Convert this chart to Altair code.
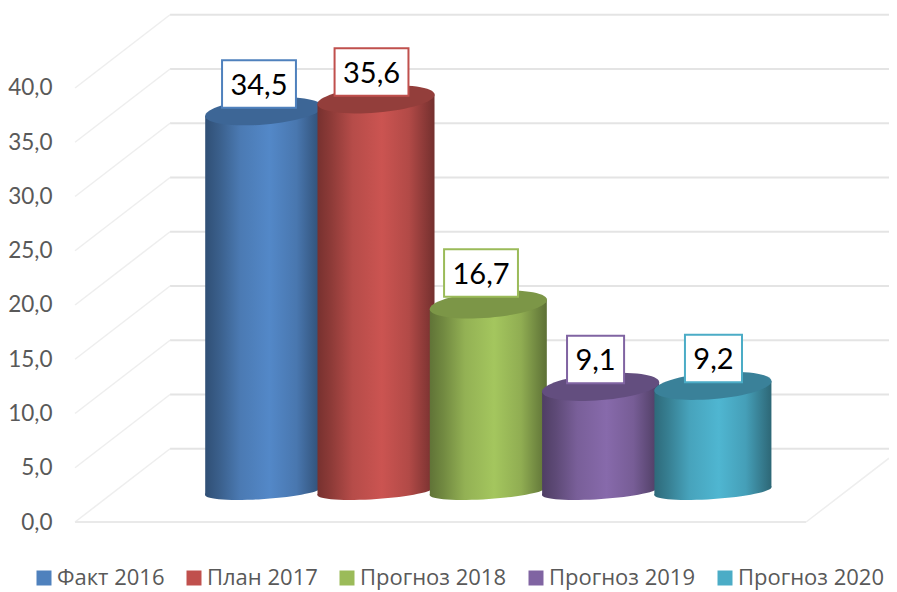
import math
import altair as alt
import pandas as pd

# ---- values ----
categories = ["Факт 2016", "План 2017", "Прогноз 2018", "Прогноз 2019", "Прогноз 2020"]
values = [34.5, 35.6, 16.7, 9.1, 9.2]
labels = ["34,5", "35,6", "16,7", "9,1", "9,2"]
base_colors = ["#4F81BD", "#C0504D", "#9BBB59", "#8064A2", "#4BACC6"]
top_colors = ["#3D6696", "#933E3B", "#7C9647", "#634E7F", "#3A8199"]
grid_values = [0, 5, 10, 15, 20, 25, 30, 35, 40]

# ---- layout of the pseudo-3D box, in data units ----
DEPTH = 6.75
WALL_L_FRONT, WALL_L_BACK = -1.68, -0.834
WALL_R_FRONT = 4.83
X_MIN, X_MAX = -1.814, 5.568
WALL_R_RISE = 5.88
Y_MIN, Y_MAX = -6.45, 47.37
HALF = 0.521
TOP_LIFT = 3.35
RISE_TOP = 0.45
BASE = 2.86
RISE_BASE = 0.37
LABEL_LIFT = [5.87, 5.87, 6.25, 5.88, 5.87]
LABEL_DX = [-0.042, -0.04, -0.065, -0.045, 0.005]
LABEL_HALF_W = [0.329, 0.329, 0.329, 0.254, 0.254]
LABEL_HALF_H = 2.19

FONT = "Open Sans"
NUM_FONT = "Lato"
TXT = "#595959"


def shade(hex_color, k):
    r, g, b = [int(hex_color[i:i + 2], 16) for i in (1, 3, 5)]
    return "#%02x%02x%02x" % tuple(min(255, int(c * k)) for c in (r, g, b))


def gradient(c):
    stops = [(0, 0.62), (0.12, 0.74), (0.3, 0.95), (0.55, 1.06), (0.78, 0.93), (0.92, 0.72), (1, 0.6)]
    return alt.LinearGradient(
        gradient="linear", x1=0, x2=1, y1=0, y2=0,
        stops=[alt.GradientStop(offset=o, color=shade(c, k)) for o, k in stops],
    )


def ellipse_path(ry, deg, n=64):
    t = math.radians(deg)
    pts = []
    for i in range(n):
        a = 2 * math.pi * i / n
        x, y = math.cos(a), ry * math.sin(a)
        pts.append((x * math.cos(t) + y * math.sin(t), -x * math.sin(t) + y * math.cos(t)))
    return "M" + "L".join(f"{x:.4f},{y:.4f}" for x, y in pts) + "Z"


TOP_SHAPE = ellipse_path(0.225, 4.8)
BASE_SHAPE = ellipse_path(0.1375, 3.9)
ELL_SIZE = 117.6 ** 2

xs = alt.Scale(domain=[X_MIN, X_MAX], nice=False, zero=False)
ys = alt.Scale(domain=[Y_MIN, Y_MAX], nice=False, zero=False)
y_axis = alt.Axis(
    values=grid_values, labelExpr="replace(format(datum.value,'.1f'),'.',',')",
    domain=False, ticks=False, grid=False, labelFont=NUM_FONT, labelFontSize=22.5,
    labelColor=TXT, labelPadding=8, labelOffset=0, title=None)
X = lambda f: alt.X(f, type="quantitative", scale=xs, axis=None)
Y = lambda f: alt.Y(f, type="quantitative", scale=ys, axis=y_axis)

layers = []

# back wall and floor
back = pd.DataFrame({"x": WALL_L_BACK, "x2": X_MAX, "y": [v + DEPTH for v in grid_values]})
layers.append(alt.Chart(back).mark_rule(color="#e4e4e4", strokeWidth=2.2).encode(
    x=X("x"), x2="x2:Q", y=Y("y")))
side = pd.DataFrame({"x": WALL_L_FRONT, "x2": WALL_L_BACK, "y": grid_values,
                     "y2": [v + DEPTH for v in grid_values]})
layers.append(alt.Chart(side).mark_rule(color="#eeeeee", strokeWidth=1.5).encode(
    x=X("x"), x2="x2:Q", y=Y("y"), y2="y2:Q"))
floor = pd.DataFrame({"x": [WALL_L_FRONT], "x2": [WALL_R_FRONT], "y": [0], "y2": [0]})
layers.append(alt.Chart(floor).mark_rule(color="#e9e9e9", strokeWidth=2.2).encode(
    x=X("x"), x2="x2:Q", y=Y("y"), y2="y2:Q"))
floor_r = pd.DataFrame({"x": [WALL_R_FRONT], "x2": [X_MAX], "y": [0], "y2": [WALL_R_RISE]})
layers.append(alt.Chart(floor_r).mark_rule(color="#eeeeee", strokeWidth=1.5).encode(
    x=X("x"), x2="x2:Q", y=Y("y"), y2="y2:Q"))

# hidden layer that carries the legend
legend_df = pd.DataFrame({"cat": categories, "x": list(range(5)), "y": values})
layers.append(alt.Chart(legend_df).mark_square(opacity=0, size=1).encode(
    x=X("x"), y=Y("y"),
    color=alt.Color("cat:N", sort=categories,
                    scale=alt.Scale(domain=categories, range=base_colors),
                    legend=alt.Legend(
                        title=None, orient="none", legendX=-27, legendY=559, direction="horizontal",
                        columns=5, symbolType="square", symbolSize=225, symbolStrokeWidth=0,
                        symbolOpacity=1, labelFont=FONT, labelFontSize=22, labelColor=TXT,
                        labelOffset=2, columnPadding=18, padding=0, labelLimit=300)),
))

# cylinders
for i, (v, base, top) in enumerate(zip(values, base_colors, top_colors)):
    g = gradient(base)
    layers.append(alt.Chart(pd.DataFrame({"x": [i], "y": [BASE]})).mark_point(
        shape=BASE_SHAPE, size=ELL_SIZE, filled=True, fill=g, opacity=1, strokeWidth=0
    ).encode(x=X("x"), y=Y("y")))
    body = pd.DataFrame({
        "x": [i - HALF, i + HALF],
        "y": [v + TOP_LIFT - RISE_TOP, v + TOP_LIFT + RISE_TOP],
        "y2": [BASE - RISE_BASE, BASE + RISE_BASE],
    })
    layers.append(alt.Chart(body).mark_area(fill=g, opacity=1).encode(
        x=X("x"), y=Y("y"), y2="y2:Q"))
    layers.append(alt.Chart(pd.DataFrame({"x": [i], "y": [v + TOP_LIFT]})).mark_point(
        shape=TOP_SHAPE, size=ELL_SIZE, filled=True, fill=top, opacity=1, strokeWidth=0
    ).encode(x=X("x"), y=Y("y")))

# data labels
lab = pd.DataFrame({
    "label": labels,
    "color": base_colors,
    "cx": [i + d for i, d in enumerate(LABEL_DX)],
    "x": [i + d - w for i, (d, w) in enumerate(zip(LABEL_DX, LABEL_HALF_W))],
    "x2": [i + d + w for i, (d, w) in enumerate(zip(LABEL_DX, LABEL_HALF_W))],
    "cy": [v + l for v, l in zip(values, LABEL_LIFT)],
    "y": [v + l - LABEL_HALF_H for v, l in zip(values, LABEL_LIFT)],
    "y2": [v + l + LABEL_HALF_H for v, l in zip(values, LABEL_LIFT)],
})
layers.append(alt.Chart(lab).mark_rect(fill="white", strokeWidth=2).encode(
    x=X("x"), x2="x2:Q", y=Y("y"), y2="y2:Q", stroke=alt.Stroke("color:N", scale=None)))
layers.append(alt.Chart(lab).mark_text(font=NUM_FONT, fontSize=29, color="black", baseline="middle", dy=2).encode(
    x=X("cx"), y=Y("cy"), text="label:N"))

chart = alt.layer(*layers).properties(
    width=829, height=584,
    padding={"left": 52, "right": 0, "top": 0, "bottom": 0},
    autosize=alt.AutoSizeParams(type="none"),
).configure_view(stroke=None)

chart.save("out.html", embed_options={"renderer": "svg", "actions": False})
